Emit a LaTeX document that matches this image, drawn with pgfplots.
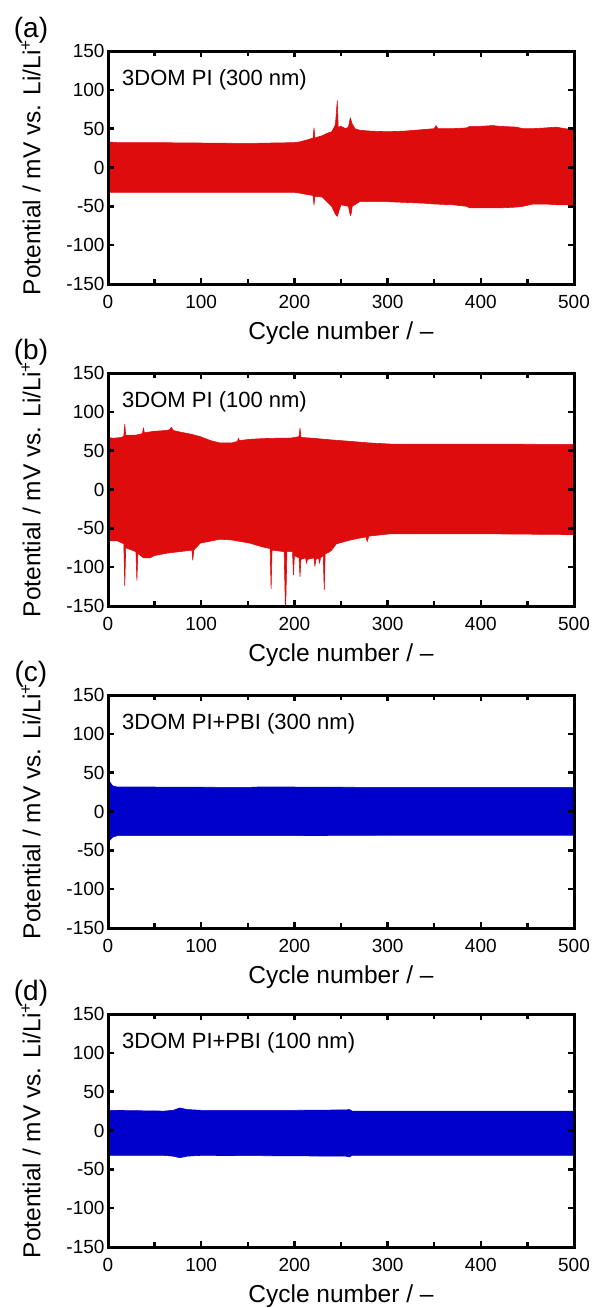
\documentclass[border=0pt]{standalone}
\usepackage{fontspec}
\setmainfont{Liberation Sans}
\usepackage{pgfplots}
\pgfplotsset{compat=1.18}
\definecolor{bandred}{RGB}{222,12,12}
\definecolor{bandblue}{RGB}{0,0,205}
\pgfplotsset{
 panel/.style={
  scale only axis, width=466pt, height=233pt,
  xmin=0,xmax=500,ymin=-150,ymax=150,
  xtick={0,100,200,300,400,500}, minor xtick={50,150,250,350,450},
  ytick={-150,-100,-50,0,50,100,150},
  yticklabels={-150,-100,-50,0,50,100,150},
  xticklabels={0,100,200,300,400,500},
  tick align=inside,
  major tick length=6pt, minor tick length=5pt,
  axis line style={line width=3pt},
  tick style={line width=2.5pt, black},
  tick label style={font=\fontsize{19}{19}\selectfont},
  xticklabel style={anchor=base, yshift=-24pt},
  every axis x label/.style={at={(axis description cs:0.5,0)}, anchor=base, yshift=-55pt, font=\fontsize{24.5}{24.5}\selectfont},
  every axis y label/.style={at={(axis description cs:0,0.5)}, rotate=90, anchor=center, yshift=77pt, font=\fontsize{24.5}{24.5}\selectfont},
  xlabel={Cycle number / –},
  ylabel={Potential / mV vs. Li/Li\textsuperscript{+}},
  anchor=south west,
  axis on top,
 },
 band/.style={line width=0.6pt, line join=round},
}
\begin{document}
\begin{tikzpicture}
% (a)
\begin{axis}[panel, name=pa, at={(108pt,-284pt)}]
\addplot[band, draw=bandred, fill=bandred] coordinates {
(0,33) (10,32) (50,32) (100,31.5) (150,31) (200,32) (206,33) (215,36) (220,38) (221,51) (222,38) (230,41) (235,44) (240,46) (242,50) (244,55) (245,70) (246,86) (247,52) (250,53) (255,50) (258,52) (260,64) (262,56) (265,50) (270,48) (280,47) (300,46) (320,47) (340,49) (350,50) (352,54) (354,50) (370,50) (385,51) (388,53) (400,53) (413,54) (420,53) (438,52) (445,50) (456,50) (470,51) (481,52) (490,50) (500,49)
(500,-48) (481,-48) (470,-47) (456,-47) (445,-50) (438,-51) (420,-52) (400,-52) (388,-52) (385,-50) (370,-48) (350,-47) (340,-46) (320,-45) (300,-44) (280,-44) (270,-44) (262,-50) (261,-59) (260,-62) (258,-50) (250,-48) (248,-55) (246,-63) (244,-60) (242,-55) (240,-50) (235,-44) (230,-38) (222,-37) (221,-48) (220,-36) (210,-34) (206,-33) (200,-32) (150,-32) (100,-32) (50,-32) (0,-32)
} -- cycle;
\end{axis}
% (b)
\begin{axis}[panel, name=pb, at={(108pt,-606pt)}]
\addplot[band, draw=bandred, fill=bandred] coordinates {
(0,67) (5,66) (15,67) (17,69) (18,84) (19,70) (30,70) (37,72) (38,79.5) (39,73) (50,75) (63,76) (66,77) (68,80) (70,76) (77,74) (90,71) (99,68) (110,63) (120,60) (133,60) (139,62) (140,66) (141,63) (152,64.6) (166,65.5) (180,66) (195,66) (200,67) (205,68) (206,79) (207,67) (220,66) (238,64) (260,62) (280,60) (303,58.5) (400,58.5) (500,58)
(500,-58) (400,-57) (303,-57) (280,-60) (278,-67) (277,-61) (260,-65) (245,-70) (240,-78) (238,-80) (233,-83) (232,-129) (231,-85) (228,-88) (227,-95) (226,-88) (223,-90) (222,-99) (221,-88) (214,-90) (213,-95) (212,-88) (207,-90) (206,-112) (205,-88) (200,-85) (199,-110) (198,-80) (192,-80) (190.5,-160) (189,-80) (176,-78) (175,-128) (174,-76) (166,-74) (152,-69) (133,-65) (120,-64) (99,-69) (92,-78) (91,-91) (90,-78) (77,-80) (63,-82) (50,-85) (45,-88) (40,-88) (38,-88) (32,-82) (31,-117) (30,-80) (19,-75) (18,-124) (17,-70) (10,-66) (0,-66)
} -- cycle;
\end{axis}
% (c)
\begin{axis}[panel, name=pc, at={(108pt,-928pt)}]
\addplot[band, draw=bandblue, fill=bandblue] coordinates {
(0,39) (2,38) (5,33) (10,31.5) (50,31.5) (150,31) (160,31.5) (200,31.5) (300,31) (380,31) (400,31) (500,31)
(500,-30.5) (400,-30.5) (300,-30.5) (200,-31) (100,-31) (10,-31) (5,-33) (2,-37) (0,-38)
} -- cycle;
\end{axis}
% (d)
\begin{axis}[panel, name=pd, at={(108pt,-1247pt)}]
\addplot[band, draw=bandblue, fill=bandblue] coordinates {
(0,26) (30,25.5) (60,25) (70,26) (77,29) (85,27) (100,26) (200,26) (255,26.5) (259,27) (262,25) (300,25) (400,25) (500,25)
(500,-32) (400,-32) (300,-32) (262,-32) (259,-34) (255,-33) (100,-32) (85,-33) (77,-35) (70,-33) (60,-32) (0,-32)
} -- cycle;
\end{axis}
% frames and labels
\foreach \n/\l/\t in {pa/a/3DOM PI (300 nm), pb/b/3DOM PI (100 nm), pc/c/3DOM PI+PBI (300 nm), pd/d/3DOM PI+PBI (100 nm)}{
  \draw[line width=3pt] (\n.south west) rectangle (\n.north east);
  \node[anchor=center, font=\fontsize{28}{28}\selectfont, inner sep=0pt] at ([xshift=-77pt,yshift=21pt]\n.north west) {(\l)};
  \node[anchor=base west, font=\fontsize{22}{22}\selectfont, inner sep=0pt] at ([xshift=14pt,yshift=-34pt]\n.north west) {\t};
}
\pgfresetboundingbox
\useasboundingbox (0,0) rectangle (595pt,-1308pt);
\end{tikzpicture}
\end{document}
